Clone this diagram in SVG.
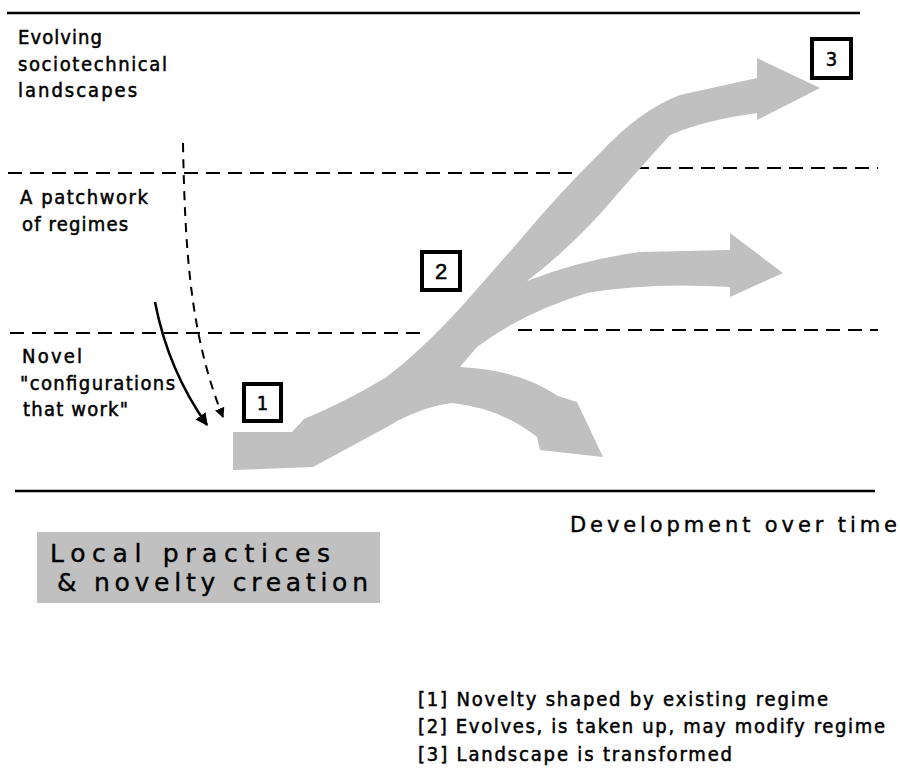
<svg xmlns="http://www.w3.org/2000/svg" width="900" height="768" viewBox="0 0 900 768">
<style>
.lbl{font-family:"DejaVu Sans Condensed","Liberation Sans Narrow","DejaVu Sans",sans-serif;font-size:20px;fill:#000;stroke:#000;stroke-width:0.5}
.rnd{font-family:"DejaVu Sans","Liberation Sans",sans-serif;fill:#000;stroke:#000;stroke-width:0.4}
.solid{stroke:#000;stroke-width:2.5;fill:none}
.dash{stroke:#000;stroke-width:2;fill:none;stroke-dasharray:14 8}
.box{fill:#fff;stroke:#000;stroke-width:4}
.num{font-family:"DejaVu Sans Condensed","DejaVu Sans",sans-serif;font-size:20px;text-anchor:middle;fill:#000;stroke:#000;stroke-width:0.5}
</style>
<defs>
<marker id="ah" viewBox="0 0 10 10" refX="9" refY="5" markerWidth="5" markerHeight="5" orient="auto" markerUnits="strokeWidth">
<path d="M0,0 L10,5 L0,10 Z" fill="#000"/>
</marker>
</defs>
<rect width="900" height="768" fill="#fff"/>

<g id="frame">
<line x1="7" y1="13" x2="860" y2="13" class="solid"/>
<line x1="15" y1="491" x2="875" y2="491" class="solid"/>
<line x1="8" y1="173" x2="580" y2="173" class="dash"/>
<line x1="635" y1="168" x2="878" y2="168" class="dash"/>
<line x1="10" y1="333" x2="422" y2="333" class="dash"/>
<line x1="518" y1="330" x2="878" y2="330" class="dash"/>
</g>

<g id="development-arrow">
<path fill="#c0c0c0" d="M233,470 L233,432 L292,432 L304,419 Q345,402 385,378 Q420,352 462,306 L520,240 Q562,190 600,153 Q640,110 680,95 L757,78 L757,58 L820,88 L757,120 L757,113 Q705,120 670,135 Q640,168 600,214 Q562,255 527,281 Q580,260 640,252 L730,250 L730,233 L783,273 L730,297 L730,287 Q650,282 587,293 Q522,313 477,347 L460,367 Q520,370 558,396 L577,402 L603,457 L540,450 L537,437 Q500,408 452,403 Q420,407 387,427 L313,467 Z"/>
</g>

<g id="connectors">
<path d="M155,302 Q168,370 207,425" class="solid" marker-end="url(#ah)"/>
<path d="M183,143 C185,250 190,335 223,417" stroke="#000" stroke-width="2" fill="none" stroke-dasharray="9 7" marker-end="url(#ah)"/>
</g>

<g id="label-landscapes">
<text class="lbl" x="18" y="44" textLength="84" lengthAdjust="spacing">Evolving</text>
<text class="lbl" x="18" y="71" textLength="149" lengthAdjust="spacing">sociotechnical</text>
<text class="lbl" x="18" y="97" textLength="119" lengthAdjust="spacing">landscapes</text>
</g>
<g id="label-regimes">
<text class="lbl" x="20" y="204" textLength="128" lengthAdjust="spacing">A patchwork</text>
<text class="lbl" x="22" y="231" textLength="106" lengthAdjust="spacing">of regimes</text>
</g>
<g id="label-niches">
<text class="lbl" x="22" y="363" textLength="60" lengthAdjust="spacing">Novel</text>
<text class="lbl" x="20" y="390" textLength="155" lengthAdjust="spacing">"configurations</text>
<text class="lbl" x="23" y="416" textLength="105" lengthAdjust="spacing">that work"</text>
</g>

<g id="marker-1">
<rect x="244" y="384" width="37" height="37" class="box"/>
<text class="num" x="262.5" y="410">1</text>
</g>
<g id="marker-2">
<rect x="422" y="252" width="38" height="38" class="box"/>
<text x="441" y="279" font-family="Liberation Mono, monospace" font-size="22" text-anchor="middle" fill="#000" stroke="#000" stroke-width="0.5">2</text>
</g>
<g id="marker-3">
<rect x="812" y="39" width="39" height="39" class="box"/>
<text class="num" x="831.5" y="66">3</text>
</g>

<g id="axis-label">
<text class="rnd" x="570" y="532" font-size="21" textLength="327" lengthAdjust="spacing">Development over time</text>
</g>

<g id="local-practices">
<rect x="37" y="532" width="343" height="71" fill="#c0c0c0"/>
<text class="rnd" x="50" y="562" font-size="25" textLength="280" lengthAdjust="spacing">Local practices</text>
<text class="rnd" x="57" y="591" font-size="25" textLength="311" lengthAdjust="spacing">&amp; novelty creation</text>
</g>

<g id="legend">
<text class="lbl" x="418" y="706" font-size="21" textLength="410" lengthAdjust="spacing">[1] Novelty shaped by existing regime</text>
<text class="lbl" x="418" y="733" font-size="21" textLength="467" lengthAdjust="spacing">[2] Evolves, is taken up, may modify regime</text>
<text class="lbl" x="418" y="761" font-size="21" textLength="314" lengthAdjust="spacing">[3] Landscape is transformed</text>
</g>
</svg>
